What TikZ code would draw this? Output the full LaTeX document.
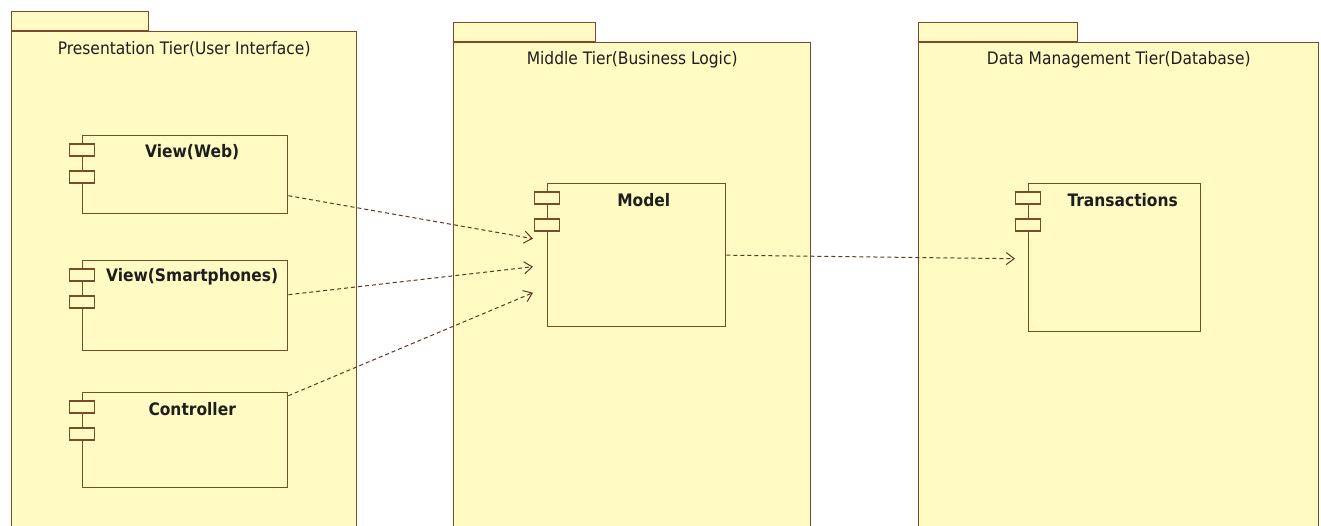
\documentclass[tikz,border=0pt]{standalone}
\usepackage{fontspec}
\setmainfont{DejaVu Sans Condensed}
\usetikzlibrary{arrows.meta,positioning}
\definecolor{tierfill}{RGB}{255,251,194}
\definecolor{tierline}{RGB}{122,74,42}
\definecolor{depline}{RGB}{90,56,34}
\definecolor{inktext}{RGB}{30,30,30}

\begin{document}
\begin{tikzpicture}[x=1pt,y=-1pt,line width=1.4pt,
tier node/.style={rectangle,draw=tierline,fill=tierfill,anchor=north west,inner sep=0pt,minimum height=520pt},
tab node/.style={rectangle,draw=tierline,fill=tierfill,anchor=south west,inner sep=0pt,minimum height=19pt},
tier title/.style={text=inktext,font=\fontsize{17.2}{20}\selectfont},
comp node/.style={rectangle,draw=tierline,fill=tierfill,anchor=north west,inner sep=0pt},
comp title/.style={text=inktext,font=\fontsize{17.2}{20}\selectfont\bfseries},
port node/.style={rectangle,draw=tierline,fill=tierfill,inner sep=0pt,minimum width=25pt,minimum height=12pt},
dep/.style={draw=depline,line width=1pt,dash pattern=on 4pt off 3pt,-{Straight Barb[length=8pt,width=12pt]}}]
\useasboundingbox (0,0) rectangle (1321,526);

% tiers
\node[tier node,minimum width=345pt] (ptier) at (11,31) {};
\node[tab node,minimum width=137pt] (ptab) at (ptier.north west) {};
\node[tier title] (ptitle) at ([yshift=-18pt]ptier.north) {Presentation Tier(User Interface)};

\node[tier node,minimum width=357pt] (mtier) at (453,42) {};
\node[tab node,minimum width=142pt] (mtab) at (mtier.north west) {};
\node[tier title] (mtitle) at ([yshift=-18pt]mtier.north) {Middle Tier(Business Logic)};

\node[tier node,minimum width=400pt] (dtier) at (918,42) {};
\node[tab node,minimum width=159pt] (dtab) at (dtier.north west) {};
\node[tier title] (dtitle) at ([yshift=-18pt]dtier.north) {Data Management Tier(Database)};

% components
\node[comp node,minimum width=205pt,minimum height=78pt] (web) at (82,135) {};
\node[comp node,minimum width=205pt,minimum height=90pt] (phone) at (82,260) {};
\node[comp node,minimum width=205pt,minimum height=95pt] (ctrl) at (82,392) {};
\node[comp node,minimum width=178pt,minimum height=143pt] (model) at (547,183) {};
\node[comp node,minimum width=172pt,minimum height=148pt] (trans) at (1028,183) {};

\foreach \c in {web,phone,ctrl,model,trans} {
  \node[port node] (\c-p1) at ([yshift=-15pt]\c.north west) {};
  \node[port node] (\c-p2) at ([yshift=-42pt]\c.north west) {};
}

\node[comp title] (webtitle) at ([xshift=7pt,yshift=-17pt]web.north) {View(Web)};
\node[comp title] (phonetitle) at ([xshift=7pt,yshift=-17pt]phone.north) {View(Smartphones)};
\node[comp title] (ctrltitle) at ([xshift=7pt,yshift=-17pt]ctrl.north) {Controller};
\node[comp title] (modeltitle) at ([xshift=7pt,yshift=-17pt]model.north) {Model};
\node[comp title] (transtitle) at ([xshift=8pt,yshift=-17pt]trans.north) {Transactions};

% dependencies
\coordinate (m1) at ([xshift=-14pt,yshift=16.5pt]model.west);
\coordinate (m2) at ([xshift=-14pt,yshift=-11.5pt]model.west);
\coordinate (m3) at ([xshift=-14pt,yshift=-37.5pt]model.west);
\coordinate (t1) at ([xshift=-13pt,yshift=-1pt]trans.west);
\path
([yshift=-21pt]web.east) edge[dep] (m1)
([yshift=11pt]phone.east) edge[dep] (m2)
([yshift=44.5pt]ctrl.east) edge[dep] (m3)
(model.east) edge[dep] (t1);
\end{tikzpicture}
\end{document}
